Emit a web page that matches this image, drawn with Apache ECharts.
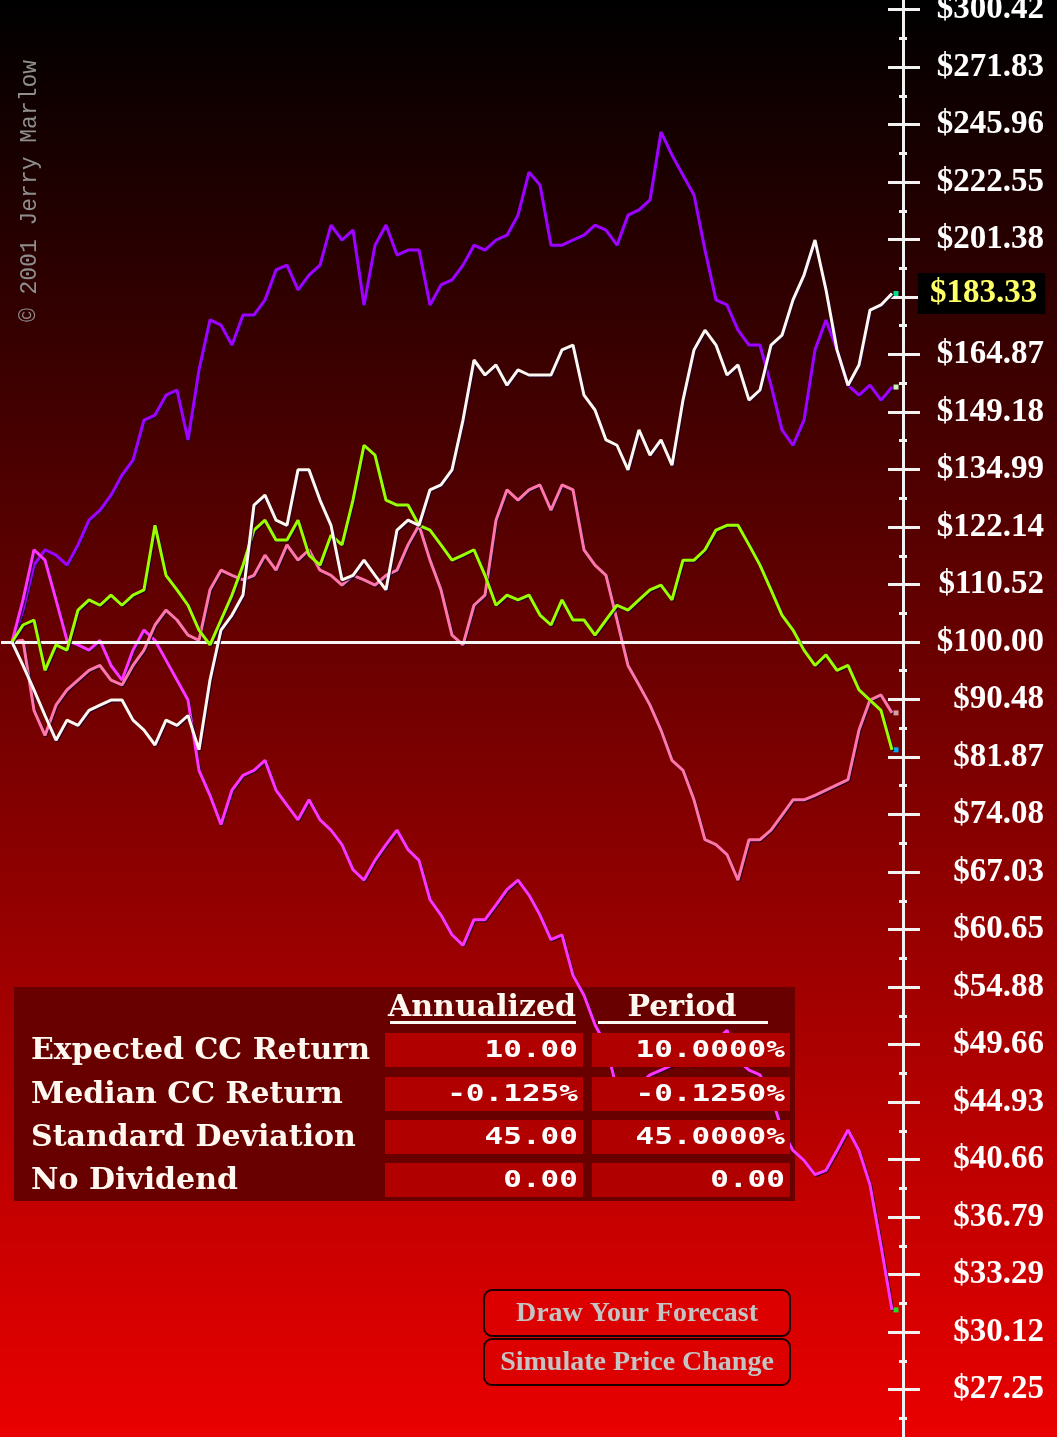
<!DOCTYPE html>
<html><head><meta charset="utf-8">
<script src="https://cdn.jsdelivr.net/npm/echarts@6/dist/echarts.min.js"></script>
<style>html,body{margin:0;padding:0;background:#000;}#c{width:1057px;height:1437px;}</style>
</head><body><div id="c"></div>
<script>
// Simulated price paths (one value per time step), in dollars
const purple = [100,105.7,114.3,117.4,116.3,114.3,118.4,123.6,125.8,129.1,133.7,137.2,147.1,148.4,153.6,155.0,142.1,160.5,175.1,173.5,167.6,176.6,176.6,181.3,191.0,192.6,184.5,189.3,192.6,206.5,201.2,204.7,179.7,199.4,206.5,196.0,197.7,197.7,179.7,186.1,187.7,192.6,199.4,197.7,201.2,202.9,210.1,226.4,221.4,199.4,199.4,201.2,202.9,206.5,204.7,199.4,210.1,212.0,215.7,242.8,233.2,225.2,217.6,197.7,181.3,179.7,172.0,167.6,167.6,156.3,144.6,140.8,147.1,166.2,175.1,166.2,156.3,153.6,156.3,152.3,155.8];
const white = [100,96.0,92.0,88.0,84.3,87.3,86.5,88.8,89.6,90.4,90.4,87.3,85.8,83.6,87.3,86.5,88.0,82.9,93.6,102.1,104.8,108.5,126.9,129.1,123.6,122.5,134.9,134.9,128.0,122.5,111.4,112.3,115.3,112.3,109.5,121.5,123.6,122.5,130.3,131.4,134.9,147.1,163.3,159.1,161.9,156.3,160.5,159.1,159.1,159.1,166.2,167.6,153.6,149.7,142.1,140.8,134.9,144.6,138.4,142.1,136.0,152.3,166.2,172.0,167.6,159.1,161.9,152.3,155.0,167.6,170.5,181.3,189.3,201.2,184.5,166.2,156.3,161.9,178.1,179.7,183.33];
const green = [100,103.0,103.9,95.2,99.5,98.6,105.7,107.6,106.6,108.5,106.6,108.5,109.5,122.5,112.3,109.5,106.6,102.1,99.5,103.9,108.5,114.3,121.5,123.6,119.4,119.4,123.6,116.3,114.3,120.4,118.4,128.0,140.8,138.4,128.0,126.9,126.9,122.5,121.5,118.4,115.3,116.3,117.4,112.3,106.6,108.5,107.6,108.5,104.8,103.0,107.6,103.9,103.9,101.2,103.9,106.6,105.7,107.6,109.5,110.4,107.6,115.3,115.3,117.4,121.5,122.5,122.5,118.4,114.3,109.5,104.8,102.1,98.6,96.0,97.8,95.2,96.0,92.0,90.4,88.8,82.9];
const pink = [100,100.3,88.8,85.0,89.6,92.0,93.6,95.2,96.0,93.6,92.8,96.0,98.6,103.0,105.7,103.9,101.2,100.3,109.5,113.3,112.3,111.4,112.3,116.3,113.3,118.4,115.3,117.4,113.3,112.3,110.4,112.3,111.4,110.4,112.3,113.3,118.4,122.5,115.3,109.5,101.2,99.5,106.6,108.5,123.6,130.3,128.0,130.3,131.4,125.8,131.4,130.3,117.4,114.3,112.3,103.9,96.0,92.8,89.6,85.8,81.4,80.0,76.0,70.9,70.3,69.1,66.1,70.9,70.9,72.1,74.0,76.0,76.0,76.6,77.3,78.0,78.7,85.8,90.4,91.2,88.4];
const magenta = [100,107.6,117.4,115.3,107.6,100.3,99.5,98.6,100.3,96.0,93.6,98.6,102.1,100.3,96.9,93.6,90.4,80.0,76.6,72.8,77.3,79.3,80.0,81.4,77.3,75.3,73.4,76.0,73.4,72.1,70.3,67.3,66.1,68.4,70.3,72.1,69.7,68.4,63.9,62.2,60.1,59.0,61.7,61.7,63.3,65.0,66.1,64.4,62.2,59.6,60.1,56.0,54.1,51.4,49.6,45.9,46.7,46.3,47.1,47.5,47.9,48.3,47.9,48.3,50.0,50.9,48.3,47.5,47.1,45.5,42.8,41.3,40.6,39.6,39.9,41.3,42.8,41.3,38.9,35.0,31.3];
const basePrice = 100;
const logTickStep = 0.1;      // ticks every 10% continuously-compounded
const logMin = -1.4, logMax = 1.2;
const rowLabels = ['Expected CC Return','Median CC Return','Standard Deviation','No Dividend'];
const colHeaders = ['Annualized','Period'];
const annualized = ['10.00','-0.125%','45.00','0.00'];
const periodVals = ['10.0000%','-0.1250%','45.0000%','0.00'];
const buttons = ['Draw Your Forecast','Simulate Price Change'];
const copyright = '\u00A9 2001 Jerry Marlow';

const toLog = p => Math.log(p / basePrice);
const toPts = arr => arr.map((p, i) => [i, toLog(p)]);
const fmt = v => '$' + (basePrice * Math.exp(v)).toFixed(2);
const lastWhite = toLog(white[white.length - 1]);

function mk(name, arr, color, endColor, z, extra) {
  const s = {
    type: 'line', name, data: toPts(arr), showSymbol: false, symbol: 'none', z,
    xAxisIndex: 0, yAxisIndex: 0, silent: true,
    lineStyle: { color, width: 3, shadowColor: 'rgba(25,0,45,0.85)', shadowOffsetX: 1, shadowOffsetY: 1, shadowBlur: 0 },
    markPoint: { symbol: 'rect', symbolSize: 5, silent: true, symbolOffset: [4, 0], label: { show: false },
      itemStyle: { color: endColor }, data: [{ coord: [arr.length - 1, toLog(arr[arr.length - 1])] }] }
  };
  return Object.assign(s, extra || {});
}

const axisCol = '#f2f2f2';
const gridBox = { left: 1, right: 154, top: -48, bottom: -10, containLabel: false, outerBoundsMode: 'none' };
const yBase = { type: 'value', min: logMin, max: logMax, interval: logTickStep, position: 'right', splitLine: { show: false } };

const g = [];
g.push({ type: 'text', x: 30, y: 191, rotation: Math.PI / 2, z: 0,
  style: { text: copyright, fill: '#8e8e8e', font: '23px "Liberation Mono", monospace', textAlign: 'center', textVerticalAlign: 'middle', align: 'center', verticalAlign: 'middle' } });
// table background (under the lines)
g.push({ type: 'rect', z: 0, shape: { x: 14, y: 987, width: 781, height: 214 }, style: { fill: '#680000' } });
const headX = [482, 682];
const ulX = [[390, 186], [598, 170]];
colHeaders.forEach((h, k) => {
  g.push({ type: 'text', z: 0, x: headX[k], y: 1008, style: { text: h, fill: '#fff8f0', font: 'bold 30px "DejaVu Serif", serif', textAlign: 'center', textVerticalAlign: 'middle', align: 'center', verticalAlign: 'middle' } });
  g.push({ type: 'rect', z: 0, shape: { x: ulX[k][0], y: 1021, width: ulX[k][1], height: 3 }, style: { fill: '#fff8f0' } });
});
const rowY = [1033, 1077, 1120, 1163];
const colX = [385, 592];
rowLabels.forEach((r, k) => {
  const cy = rowY[k] + 17;
  g.push({ type: 'text', z: 10, x: 31, y: cy + 1, style: { text: r, fill: '#fff8f0', font: 'bold 30px "DejaVu Serif", serif', textAlign: 'left', textVerticalAlign: 'middle', align: 'left', verticalAlign: 'middle' } });
  [annualized[k], periodVals[k]].forEach((v, c) => {
    g.push({ type: 'rect', z: 10, shape: { x: colX[c], y: rowY[k], width: 198, height: 34 }, style: { fill: '#b00000' } });
    g.push({ type: 'text', z: 11, x: colX[c] + 193, y: cy + 1, scaleX: 1.35, style: { text: v, fill: '#ffffff', font: 'bold 23px "DejaVu Sans Mono", monospace', textAlign: 'right', textVerticalAlign: 'middle', align: 'right', verticalAlign: 'middle' } });
  });
});
const btnY = [1290, 1339];
buttons.forEach((b, k) => {
  g.push({ type: 'rect', z: 10, shape: { x: 484, y: btnY[k], width: 306, height: 46, r: 8 }, style: { fill: '#dc0000', stroke: '#1a0000', lineWidth: 2 } });
  g.push({ type: 'text', z: 11, x: 637, y: btnY[k] + 24, style: { text: b, fill: '#c4c4c4', font: 'bold 28px "Liberation Serif", serif', textAlign: 'center', textVerticalAlign: 'middle', align: 'center', verticalAlign: 'middle' } });
});

const option = {
  animation: false,
  backgroundColor: { type: 'linear', x: 0, y: 0, x2: 0, y2: 1, colorStops: [{ offset: 0, color: '#000000' }, { offset: 1, color: '#ea0000' }] },
  grid: [Object.assign({}, gridBox), Object.assign({}, gridBox)],
  xAxis: [
    { type: 'value', gridIndex: 0, min: -1, max: 81, show: false, splitLine: { show: false } },
    { type: 'value', gridIndex: 1, min: -1, max: 81, show: false, splitLine: { show: false } }
  ],
  yAxis: [
    Object.assign({}, yBase, {
      gridIndex: 0,
      axisLine: { show: true, onZero: false, lineStyle: { color: axisCol, width: 3 } },
      axisTick: { show: true, inside: true, length: 15, lineStyle: { color: axisCol, width: 3 } },
      minorTick: { show: true, splitNumber: 2, length: 4, lineStyle: { color: axisCol, width: 3 } },
      axisLabel: { show: true, margin: 141, align: 'right', color: '#ffffff', fontFamily: '"Liberation Serif", serif', fontWeight: 'bold', fontSize: 33,
        showMinLabel: false, showMaxLabel: true, hideOverlap: false,
        formatter: v => (Math.abs(v - lastWhite) < 0.05 ? '' : fmt(v)) }
    }),
    Object.assign({}, yBase, {
      gridIndex: 1,
      axisLine: { show: false, onZero: false },
      axisTick: { show: true, inside: false, length: 17, lineStyle: { color: axisCol, width: 3 } },
      minorTick: { show: true, splitNumber: 2, length: 4, lineStyle: { color: axisCol, width: 3 } },
      axisLabel: { show: false }
    })
  ],
  graphic: { elements: g },
  series: [
    mk('purple', purple, '#a000ff', '#c8f0c0', 2),
    mk('magenta', magenta, '#ff33ff', '#20e020', 3),
    mk('pink', pink, '#ff77aa', '#d0a0a0', 4),
    mk('green', green, '#99ff00', '#00b0ff', 5),
    mk('white', white, '#fff8f0', '#00e090', 6, {
      endLabel: { show: true, distance: 26, formatter: () => '$' + white[white.length - 1].toFixed(2),
        color: '#ffff66', backgroundColor: '#000000', padding: [5, 8, 3, 12],
        fontFamily: '"Liberation Serif", serif', fontWeight: 'bold', fontSize: 33 },
      markLine: { silent: true, symbol: 'none', label: { show: false }, lineStyle: { color: '#f4f4f4', width: 3, type: 'solid' },
        data: [{ yAxis: toLog(basePrice) }] }
    })
  ]
};
const chart = echarts.init(document.getElementById('c'), null, { renderer: 'canvas' });
chart.setOption(option);
</script>
</body></html>
